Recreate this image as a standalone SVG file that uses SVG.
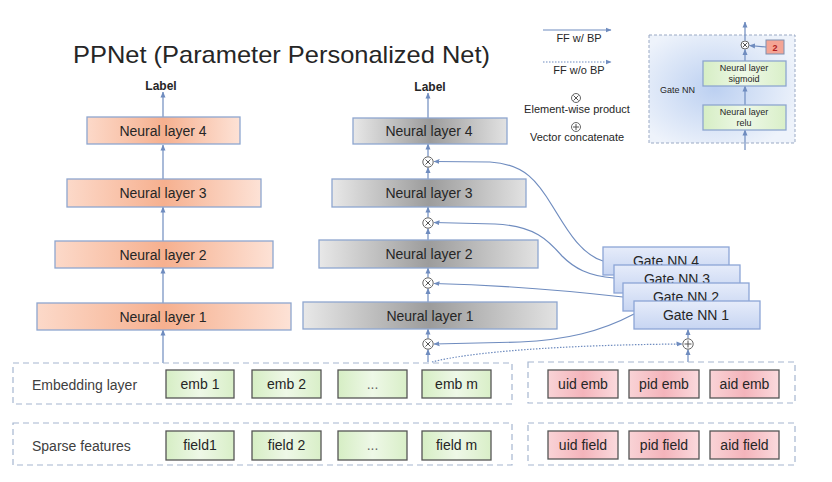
<svg xmlns="http://www.w3.org/2000/svg" width="832" height="482" viewBox="0 0 832 482">
<defs>
<linearGradient id="gOrange" x1="0" y1="0" x2="1" y2="0">
<stop offset="0" stop-color="#fcd9c9"/><stop offset="0.5" stop-color="#f6b08f"/><stop offset="1" stop-color="#fde2d6"/>
</linearGradient>
<linearGradient id="gGray" x1="0" y1="0" x2="1" y2="0">
<stop offset="0" stop-color="#e8e8e8"/><stop offset="0.5" stop-color="#9c9c9c"/><stop offset="1" stop-color="#e2e2e2"/>
</linearGradient>
<linearGradient id="gBlue" x1="0" y1="0" x2="0" y2="1">
<stop offset="0" stop-color="#e6ecfa"/><stop offset="1" stop-color="#c7d5f2"/>
</linearGradient>
<radialGradient id="gInset" cx="0.45" cy="0.5" r="0.6">
<stop offset="0" stop-color="#bcd0f1"/><stop offset="1" stop-color="#eef3fb"/>
</radialGradient>
<linearGradient id="gGreen" x1="0" y1="0" x2="1" y2="0">
<stop offset="0" stop-color="#d6eec4"/><stop offset="0.5" stop-color="#eef8e7"/><stop offset="1" stop-color="#d9efc8"/>
</linearGradient>
<linearGradient id="gPink" x1="0" y1="0" x2="1" y2="0">
<stop offset="0" stop-color="#f9d3d6"/><stop offset="0.5" stop-color="#f4b4bb"/><stop offset="1" stop-color="#fbdadd"/>
</linearGradient>
<marker id="arr" viewBox="0 0 6 6" refX="5.5" refY="3" markerWidth="6" markerHeight="6" markerUnits="userSpaceOnUse" orient="auto">
<path d="M0,0.5 L6,3 L0,5.5 z" fill="#6f8cbf"/>
</marker>
</defs>
<style>
text{font-family:"Liberation Sans",Arial,sans-serif;fill:#262626}
.nl{font-size:14px;text-anchor:middle}
.lbl{font-size:12px;font-weight:bold;text-anchor:middle}
.or{fill:url(#gOrange);stroke:#8ea6cf;stroke-width:1.3}
.gr{fill:url(#gGray);stroke:#8ea6cf;stroke-width:1.3}
.gb{fill:url(#gBlue);stroke:#8ca5d6;stroke-width:1.3}
.gn{fill:url(#gGreen);stroke:#555;stroke-width:1.3}
.pk{fill:url(#gPink);stroke:#555;stroke-width:1.3}
.dash{fill:none;stroke:#a6b6d0;stroke-width:1.2;stroke-dasharray:6,4}
.c{fill:none;stroke:#6f8cbf;stroke-width:1.2}
.ca{fill:none;stroke:#6f8cbf;stroke-width:1.2;marker-end:url(#arr)}
.dot{fill:none;stroke:#6f8cbf;stroke-width:1.2;stroke-dasharray:1.5,1.5;marker-end:url(#arr)}
.op{fill:#fff;stroke:#666;stroke-width:1}
.ox{stroke:#555;stroke-width:1}
.leg{font-size:11px;text-anchor:middle}
.sm{font-size:9px;text-anchor:middle}
</style>
<rect width="832" height="482" fill="#fff"/>
<text x="73" y="63" font-size="24" textLength="417" lengthAdjust="spacingAndGlyphs">PPNet (Parameter Personalized Net)</text>

<g id="legend">
<line class="ca" x1="543" y1="30" x2="611" y2="30"/>
<text class="leg" x="579" y="42" font-size="10.5">FF w/ BP</text>
<line class="dot" x1="543" y1="62" x2="611" y2="62"/>
<text class="leg" x="579" y="74" font-size="10.5">FF w/o BP</text>
<circle class="op" cx="576" cy="98" r="4.5"/>
<path class="ox" d="M573.5,95.5 L578.5,100.5 M578.5,95.5 L573.5,100.5"/>
<text class="leg" x="577" y="113">Element-wise product</text>
<circle class="op" cx="576" cy="127" r="4.5"/>
<path class="ox" d="M573,127 L579,127 M576,124 L576,130"/>
<text class="leg" x="577" y="141">Vector concatenate</text>
</g>

<g id="gate-inset">
<rect x="649" y="35" width="146" height="108" fill="url(#gInset)" stroke="#9aa9c4" stroke-width="1" stroke-dasharray="3,2"/>
<text x="660" y="93" font-size="9">Gate NN</text>
<line class="ca" x1="745" y1="150" x2="745" y2="130"/>
<line class="ca" x1="745" y1="105" x2="745" y2="86"/>
<line class="ca" x1="745" y1="61" x2="745" y2="49.5"/>
<line class="ca" x1="745" y1="40.5" x2="745" y2="22"/>
<rect class="gn" x="703" y="105" width="83" height="25" stroke="#8ea6cf" style="stroke:#8ea6cf"/>
<text class="sm" x="744" y="115">Neural layer</text>
<text class="sm" x="744" y="126">relu</text>
<rect class="gn" x="703" y="61" width="83" height="25" style="stroke:#8ea6cf"/>
<text class="sm" x="744" y="71">Neural layer</text>
<text class="sm" x="744" y="82">sigmoid</text>
<circle class="op" cx="745" cy="45" r="4"/>
<path class="ox" d="M743,43 L747,47 M747,43 L743,47"/>
<rect x="766" y="40" width="18" height="14" fill="#f4a494" stroke="#7f90b0" stroke-width="1"/>
<text x="775" y="51" font-size="9" font-weight="bold" text-anchor="middle" style="fill:#b02020">2</text>
<line class="ca" x1="766" y1="47" x2="749.5" y2="45.5"/>
</g>

<g id="connectors">
<line class="ca" x1="163" y1="117" x2="163" y2="92"/>
<line class="ca" x1="163" y1="179" x2="163" y2="145"/>
<line class="ca" x1="163" y1="241" x2="163" y2="207"/>
<line class="ca" x1="163" y1="303" x2="163" y2="268"/>
<line class="ca" x1="163" y1="363" x2="163" y2="330"/>

<line class="ca" x1="428" y1="118" x2="428" y2="93"/>
<line class="ca" x1="428" y1="156.5" x2="428" y2="144"/>
<line class="ca" x1="428" y1="179" x2="428" y2="167.5"/>
<line class="ca" x1="428" y1="217.5" x2="428" y2="207"/>
<line class="ca" x1="428" y1="240" x2="428" y2="228.5"/>
<line class="ca" x1="428" y1="277.5" x2="428" y2="268"/>
<line class="ca" x1="428" y1="302" x2="428" y2="288.5"/>
<line class="ca" x1="428" y1="338.5" x2="428" y2="329"/>
<line class="ca" x1="428" y1="362" x2="428" y2="349.5"/>

<path class="ca" d="M603,261 C580,254 566,228 553,207 C538,182 525,164 490,162 L434,161.5"/>
<path class="ca" d="M614,278 C588,276 574,268 562,256 C548,240 535,226 495,224 L434,222.5"/>
<path class="ca" d="M623,297 C570,291 500,285 434,283.5"/>
<path class="ca" d="M634,314 C600,332 565,340 520,342 L434,344"/>

<path class="dot" d="M432,362 C470,352 560,345 682,344"/>
<line class="ca" x1="688" y1="362" x2="688" y2="349.5"/>
<line class="ca" x1="688" y1="338.5" x2="688" y2="329.5"/>
</g>

<g id="left-tower">
<text class="lbl" x="161" y="90">Label</text>
<g id="l-nl4"><rect class="or" x="87" y="117" width="153" height="27"/><text class="nl" x="163" y="135.5">Neural layer 4</text></g>
<g id="l-nl3"><rect class="or" x="67" y="179" width="194" height="28"/><text class="nl" x="163" y="198">Neural layer 3</text></g>
<g id="l-nl2"><rect class="or" x="55" y="241" width="218" height="27"/><text class="nl" x="163" y="259.5">Neural layer 2</text></g>
<g id="l-nl1"><rect class="or" x="37" y="303" width="254" height="27"/><text class="nl" x="163" y="321.5">Neural layer 1</text></g>
</g>

<g id="mid-tower">
<text class="lbl" x="430" y="91">Label</text>
<g id="m-nl4"><rect class="gr" x="353" y="118" width="154" height="26"/><text class="nl" x="429" y="136">Neural layer 4</text></g>
<g id="m-nl3"><rect class="gr" x="332" y="179" width="194" height="28"/><text class="nl" x="429" y="198">Neural layer 3</text></g>
<g id="m-nl2"><rect class="gr" x="319" y="240" width="219" height="28"/><text class="nl" x="429" y="259">Neural layer 2</text></g>
<g id="m-nl1"><rect class="gr" x="303" y="302" width="254" height="27"/><text class="nl" x="430" y="320.5">Neural layer 1</text></g>
<g id="m-x4"><circle class="op" cx="428" cy="162" r="5.2"/><path class="ox" d="M425.5,159.5 L430.5,164.5 M430.5,159.5 L425.5,164.5"/></g>
<g id="m-x3"><circle class="op" cx="428" cy="223" r="5.2"/><path class="ox" d="M425.5,220.5 L430.5,225.5 M430.5,220.5 L425.5,225.5"/></g>
<g id="m-x2"><circle class="op" cx="428" cy="283" r="5.2"/><path class="ox" d="M425.5,280.5 L430.5,285.5 M430.5,280.5 L425.5,285.5"/></g>
<g id="m-x1"><circle class="op" cx="428" cy="344" r="5.2"/><path class="ox" d="M425.5,341.5 L430.5,346.5 M430.5,341.5 L425.5,346.5"/></g>
</g>

<g id="gate-nns">
<g id="gnn4"><rect class="gb" x="603" y="247" width="126" height="28"/><text class="nl" x="666" y="266">Gate NN 4</text></g>
<g id="gnn3"><rect class="gb" x="614" y="265" width="126" height="28"/><text class="nl" x="677" y="284">Gate NN 3</text></g>
<g id="gnn2"><rect class="gb" x="623" y="283" width="126" height="28"/><text class="nl" x="686" y="302">Gate NN 2</text></g>
<g id="gnn1"><rect class="gb" x="634" y="301" width="126" height="28"/><text class="nl" x="696" y="320">Gate NN 1</text></g>
<g id="concat"><circle class="op" cx="688" cy="344" r="5.2"/><path class="ox" d="M684.5,344 L691.5,344 M688,340.5 L688,347.5"/></g>
</g>

<g id="embedding">
<rect class="dash" x="13" y="363" width="499" height="41"/>
<text x="32" y="390" font-size="14" style="fill:#404040">Embedding layer</text>
<g id="emb1"><rect class="gn" x="166" y="370" width="68" height="28"/><text class="nl" x="200" y="389">emb 1</text></g>
<g id="emb2"><rect class="gn" x="252" y="370" width="69" height="28"/><text class="nl" x="286.5" y="389">emb 2</text></g>
<g id="embd"><rect class="gn" x="338" y="370" width="69" height="28"/><text class="nl" x="372.5" y="389" font-size="11" style="fill:#666">...</text></g>
<g id="embm"><rect class="gn" x="422" y="370" width="69" height="28"/><text class="nl" x="456.5" y="389">emb m</text></g>
<rect class="dash" x="528" y="362" width="267" height="41"/>
<g id="uidemb"><rect class="pk" x="548" y="370" width="70" height="28"/><text class="nl" x="583" y="389">uid emb</text></g>
<g id="pidemb"><rect class="pk" x="629" y="370" width="70" height="28"/><text class="nl" x="664" y="389">pid emb</text></g>
<g id="aidemb"><rect class="pk" x="710" y="370" width="69" height="28"/><text class="nl" x="744.5" y="389">aid emb</text></g>
</g>

<g id="sparse">
<rect class="dash" x="13" y="423" width="499" height="42"/>
<text x="32" y="451" font-size="14" style="fill:#404040">Sparse features</text>
<g id="f1"><rect class="gn" x="166" y="431" width="68" height="29"/><text class="nl" x="200" y="450">field1</text></g>
<g id="f2"><rect class="gn" x="252" y="431" width="69" height="29"/><text class="nl" x="286.5" y="450">field 2</text></g>
<g id="fd"><rect class="gn" x="338" y="431" width="69" height="29"/><text class="nl" x="372.5" y="450" font-size="11" style="fill:#666">...</text></g>
<g id="fm"><rect class="gn" x="422" y="431" width="69" height="29"/><text class="nl" x="456.5" y="450">field m</text></g>
<rect class="dash" x="528" y="423" width="267" height="42"/>
<g id="uidf"><rect class="pk" x="548" y="431" width="70" height="28"/><text class="nl" x="583" y="450">uid field</text></g>
<g id="pidf"><rect class="pk" x="629" y="431" width="70" height="28"/><text class="nl" x="664" y="450">pid field</text></g>
<g id="aidf"><rect class="pk" x="710" y="431" width="69" height="28"/><text class="nl" x="744.5" y="450">aid field</text></g>
</g>
</svg>
